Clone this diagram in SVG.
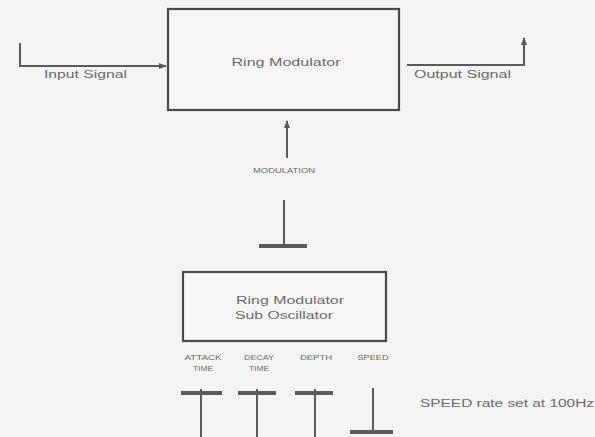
<svg xmlns="http://www.w3.org/2000/svg" width="595" height="437" viewBox="0 0 595 437">
<style>
.ln{stroke:#5a5a5a;stroke-width:2;fill:none}
.bar{stroke:#5a5a5a;stroke-width:4;fill:none}
.box{stroke:#4a4a4a;stroke-width:2.2;fill:#f6f6f4}
.t{font-family:"Liberation Sans",Arial,sans-serif;fill:#6a6a6a;font-size:10px}
.s{font-family:"Liberation Sans",Arial,sans-serif;fill:#6a6a6a;font-size:7px}
</style>
<defs>
<marker id="ah" markerWidth="8" markerHeight="6" refX="7" refY="3" orient="auto" markerUnits="userSpaceOnUse">
<path d="M0,0 L8,3 L0,6 z" fill="#5a5a5a"/>
</marker>
</defs>
<rect width="595" height="437" fill="#f4f4f2"/>
<g id="ring-modulator">
<rect class="box" x="168" y="9" width="231" height="101"/>
<text class="t" x="286" y="66" text-anchor="middle" textLength="109" lengthAdjust="spacingAndGlyphs">Ring Modulator</text>
</g>
<g id="sub-oscillator">
<rect class="box" x="183" y="272" width="203" height="69"/>
<text class="t" x="290" y="304" text-anchor="middle" textLength="108" lengthAdjust="spacingAndGlyphs">Ring Modulator</text>
<text class="t" x="284" y="319" text-anchor="middle" textLength="98" lengthAdjust="spacingAndGlyphs">Sub Oscillator</text>
</g>
<g id="connectors">
<polyline class="ln" points="20,43 20,66 166,66" marker-end="url(#ah)"/>
<polyline class="ln" points="407,65 524,65 524,38" marker-end="url(#ah)"/>
<line class="ln" x1="287" y1="158" x2="287" y2="121" marker-end="url(#ah)"/>
<line class="ln" x1="284" y1="200" x2="284" y2="247"/>
<line class="bar" x1="259" y1="246" x2="307" y2="246"/>
<line class="bar" x1="181" y1="393" x2="222" y2="393"/>
<line class="ln" x1="201" y1="389" x2="201" y2="437"/>
<line class="bar" x1="238" y1="393" x2="276" y2="393"/>
<line class="ln" x1="257" y1="389" x2="257" y2="437"/>
<line class="bar" x1="295" y1="393" x2="333" y2="393"/>
<line class="ln" x1="315" y1="389" x2="315" y2="437"/>
<line class="ln" x1="373" y1="388" x2="373" y2="432"/>
<line class="bar" x1="350" y1="432" x2="393" y2="432"/>
</g>
<g id="labels">
<text class="t" x="44" y="78" textLength="83" lengthAdjust="spacingAndGlyphs">Input Signal</text>
<text class="t" x="414" y="78" textLength="97" lengthAdjust="spacingAndGlyphs">Output Signal</text>
<text class="s" x="284" y="173" text-anchor="middle" textLength="62" lengthAdjust="spacingAndGlyphs">MODULATION</text>
<text class="s" x="203" y="360" text-anchor="middle" textLength="37" lengthAdjust="spacingAndGlyphs">ATTACK</text>
<text class="s" x="203" y="371" text-anchor="middle" textLength="20" lengthAdjust="spacingAndGlyphs">TIME</text>
<text class="s" x="259" y="360" text-anchor="middle" textLength="30" lengthAdjust="spacingAndGlyphs">DECAY</text>
<text class="s" x="259" y="371" text-anchor="middle" textLength="20" lengthAdjust="spacingAndGlyphs">TIME</text>
<text class="s" x="316" y="360" text-anchor="middle" textLength="32" lengthAdjust="spacingAndGlyphs">DEPTH</text>
<text class="s" x="373" y="360" text-anchor="middle" textLength="31" lengthAdjust="spacingAndGlyphs">SPEED</text>
<text class="t" x="420" y="407" textLength="174" lengthAdjust="spacingAndGlyphs">SPEED rate set at 100Hz</text>
</g>
</svg>
